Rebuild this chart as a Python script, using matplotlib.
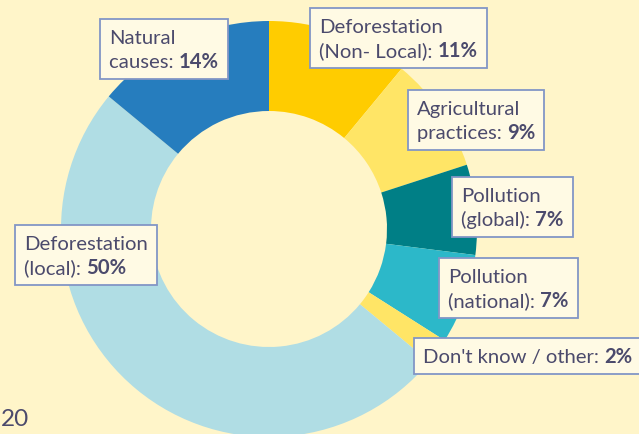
import matplotlib
matplotlib.use("Agg")
import matplotlib.pyplot as plt
from matplotlib.patches import Rectangle

# data (clockwise from 12 o'clock)
causes = ["Deforestation\n(Non- Local)", "Agricultural\npractices", "Pollution\n(global)",
          "Pollution\n(national)", "Don't know / other", "Deforestation\n(local)",
          "Natural\ncauses"]
shares = [11, 9, 7, 7, 2, 50, 14]
colors = ["#FFCC00", "#FFE566", "#007F86", "#2CB8C9", "#FFE566", "#B0DDE4", "#267DBE"]

# label anchor: text left x, first baseline y (in image pixels, y down)
label_pos = [(319, 33), (417, 115), (461, 202), (448, 283), (423, 363), (24, 250), (109, 44)]

BG = "#FFF5C9"
TXT = "#4B4A6C"
W, H = 639, 434
plt.rcParams["font.family"] = ["Lato", "DejaVu Sans"]

fig = plt.figure(figsize=(W / 100, H / 100), dpi=100, facecolor=BG)
ax = fig.add_axes([0, 0, 1, 1])
ax.set_facecolor(BG)

ax.pie(shares, colors=colors, startangle=90, counterclock=False,
       center=(269, H - 229), radius=208,
       wedgeprops=dict(width=90, linewidth=0))
ax.set_xlim(0, W)
ax.set_ylim(0, H)
ax.set_aspect("auto")
ax.axis("off")

fs = 14.6
lh = 24
renderer = fig.canvas.get_renderer()
inv = ax.transData.inverted()

for name, val, (lx, ly) in zip(causes, shares, label_pos):
    lines = name.split("\n")
    right = lx
    for i, line in enumerate(lines):
        by = ly + i * lh
        last = i == len(lines) - 1
        t = ax.text(lx, H - by, line + (": " if last else ""), fontsize=fs,
                    color=TXT, va="baseline", ha="left", zorder=5)
        bb = t.get_window_extent(renderer)
        x1 = inv.transform((bb.x1, bb.y0))[0]
        if last:
            tb = ax.text(x1, H - by, f"{val}%", fontsize=fs, color=TXT,
                         fontweight="bold", va="baseline", ha="left", zorder=5)
            x1 = inv.transform((tb.get_window_extent(renderer).x1, 0))[0]
        right = max(right, x1)
    top = ly - 25
    bottom = ly + (len(lines) - 1) * lh + 11
    ax.add_patch(Rectangle((lx - 9, H - bottom), right - lx + 18, bottom - top,
                           facecolor="#FFFAE4", edgecolor="#8296C6", linewidth=1.3,
                           zorder=4))

ax.text(1, H - 426, "20", fontsize=17.5, color=TXT,
        ha="left", va="baseline")

fig.savefig("out.png", dpi=100, facecolor=BG)
